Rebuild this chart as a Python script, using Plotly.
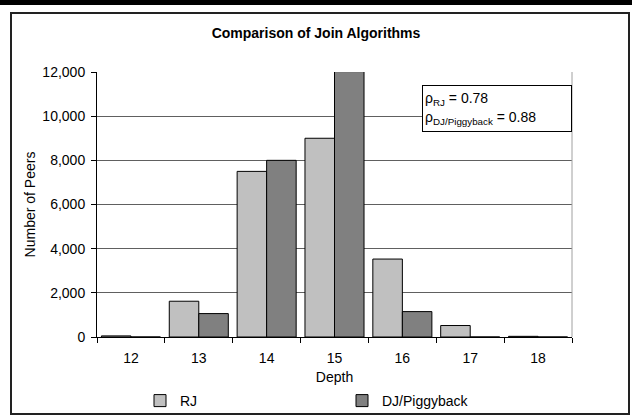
import plotly.graph_objects as go

depths = ['12', '13', '14', '15', '16', '17', '18']
rj_peers = [50, 1620, 7500, 9000, 3530, 520, 30]
dj_peers = [0, 1060, 8000, 12020, 1150, 0, 0]
y_ticks = [0, 2000, 4000, 6000, 8000, 10000, 12000]

FONT = 'Liberation Sans, Arial, sans-serif'

fig = go.Figure()
fig.add_trace(go.Bar(
    x=depths, y=rj_peers, name='RJ',
    marker=dict(color='#c0c0c0', line=dict(color='black', width=1))
))
fig.add_trace(go.Bar(
    x=depths, y=dj_peers, name='DJ/Piggyback',
    marker=dict(color='#808080', line=dict(color='black', width=1))
))

# plot area: x 97..572, y 72..337 in pixels
L, R, T, B = 97, 572, 72, 337
W, H = R - L, B - T
def px(x):
    return (x - L) / W
def py(y):
    return (B - y) / H

fig.update_layout(
    width=632, height=415,
    margin=dict(l=L, r=632 - R, t=T, b=415 - B, autoexpand=False),
    paper_bgcolor='white', plot_bgcolor='white',
    font=dict(family=FONT, size=14, color='black'),
    title=dict(text='<b>Comparison of Join Algorithms</b>', x=0.5, xanchor='center',
               y=1 - 33 / 415, yanchor='middle', font=dict(size=14)),
    barmode='group', bargap=0.13, bargroupgap=0,
    showlegend=True,
    legend=dict(orientation='h', x=px(140), y=py(401), xanchor='left', yanchor='middle',
                entrywidth=157, entrywidthmode='pixels', font=dict(size=14),
                itemwidth=30, traceorder='normal', bgcolor='rgba(0,0,0,0)'),
    xaxis=dict(
        type='category', title=dict(text='Depth', standoff=7, font=dict(size=14)),
        tickfont=dict(size=14), ticklabelstandoff=8,
        showline=True, linecolor='black', linewidth=1,
        ticks='outside', tickson='boundaries', ticklen=5, tickcolor='black',
        showgrid=False,
    ),
    yaxis=dict(
        title=dict(text='Number of Peers', standoff=3, font=dict(size=14)),
        tickfont=dict(size=14), ticklabelstandoff=3,
        range=[0, 12000], tickvals=y_ticks, tickformat=',',
        showline=True, linecolor='black', linewidth=1,
        ticks='outside', ticklen=5, tickcolor='black',
        showgrid=True, gridcolor='#606060', gridwidth=1, zeroline=False,
    ),
    shapes=[
        # thick bar at the very top
        dict(type='rect', xref='paper', yref='paper', x0=px(0), x1=px(632),
             y0=py(5), y1=py(0), fillcolor='black', line=dict(width=0)),
        # chart border
        dict(type='rect', xref='paper', yref='paper', x0=px(11), x1=px(629),
             y0=py(414), y1=py(13), line=dict(color='#222222', width=2)),
        # plot area right border
        dict(type='line', xref='paper', yref='paper', x0=1, x1=1, y0=0, y1=1,
             line=dict(color='#a0a0a0', width=1)),
    ],
    annotations=[
        dict(text='ρ<sub>RJ</sub> = 0.78<br>ρ<sub>DJ/Piggyback</sub> = 0.88',
             xref='paper', yref='paper', x=px(422), y=py(85), xanchor='left', yanchor='top',
             showarrow=False, align='left', bordercolor='black', borderwidth=1,
             width=144, height=41, bgcolor='white', borderpad=2, font=dict(size=14)),
    ],
)

fig.write_html('out.html', config={'displayModeBar': False},
               post_script="document.body.style.margin='0';")
